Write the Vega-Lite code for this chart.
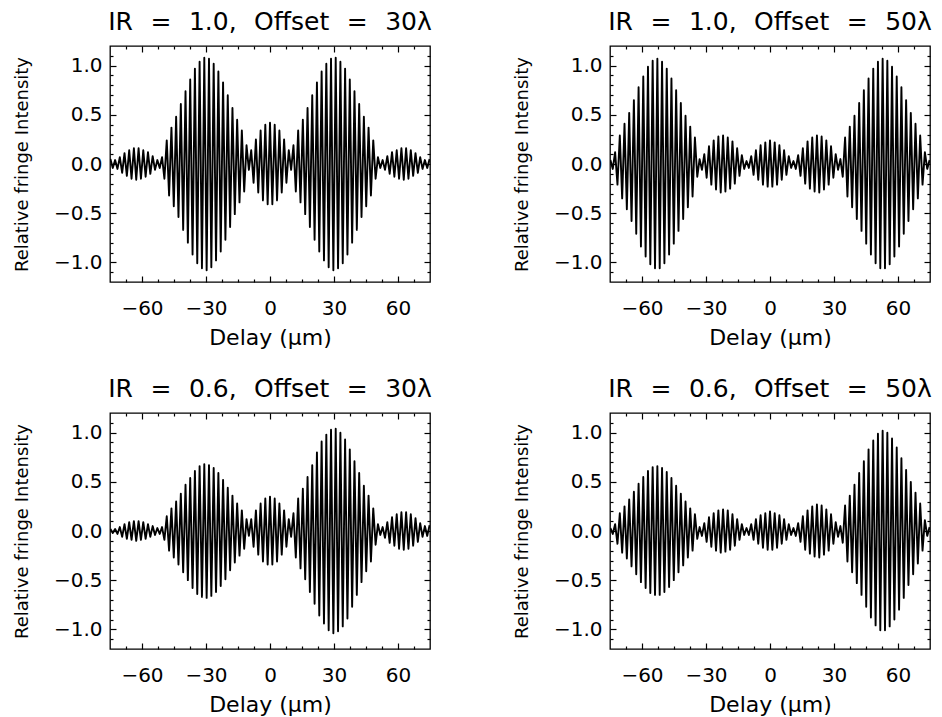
{
  "$schema": "https://vega.github.io/schema/vega-lite/v6.json",
  "background": "white",
  "padding": {"left": 12, "top": 9, "right": 2, "bottom": 2},
  "config": {
    "font": "DejaVu Sans",
    "view": {"stroke": "black", "strokeWidth": 1.3},
    "axis": {"grid": false, "domain": false, "labelFont": "DejaVu Sans", "titleFont": "DejaVu Sans", "labelColor": "black", "titleColor": "black", "titleFontWeight": "normal", "labelFontSize": 20, "titleFontSize": 20, "tickColor": "black", "tickWidth": 1.2},
    "axisX": {"labelPadding": 16, "titlePadding": 9, "titleFontSize": 22},
    "axisY": {"labelPadding": 8, "titlePadding": 22, "titleFontSize": 18},
    "title": {"font": "DejaVu Sans", "fontSize": 25, "fontWeight": "normal", "color": "black", "frame": "group", "anchor": "middle", "baseline": "alphabetic", "offset": 10}
  },
  "data": {"name": "fringes"},
  "datasets": {
    "fringes": [
      {"x":-74.8,"a":0.05,"b":0.04,"c":0.02,"d":0.03},
      {"x":-73.7,"a":-0.04,"b":-0.05,"c":-0.02,"d":-0.03},
      {"x":-72.6,"a":0.04,"b":0.12,"c":0.02,"d":0.07},
      {"x":-71.5,"a":-0.05,"b":-0.21,"c":-0.03,"d":-0.13},
      {"x":-70.4,"a":0.07,"b":0.29,"c":0.04,"d":0.18},
      {"x":-69.3,"a":-0.09,"b":-0.35,"c":-0.06,"d":-0.22},
      {"x":-68.2,"a":0.11,"b":0.41,"c":0.07,"d":0.25},
      {"x":-67.1,"a":-0.12,"b":-0.46,"c":-0.08,"d":-0.28},
      {"x":-66.0,"a":0.14,"b":0.52,"c":0.09,"d":0.32},
      {"x":-64.9,"a":-0.15,"b":-0.58,"c":-0.09,"d":-0.36},
      {"x":-63.8,"a":0.16,"b":0.65,"c":0.10,"d":0.40},
      {"x":-62.7,"a":-0.16,"b":-0.71,"c":-0.10,"d":-0.44},
      {"x":-61.6,"a":0.16,"b":0.78,"c":0.10,"d":0.48},
      {"x":-60.5,"a":-0.15,"b":-0.84,"c":-0.09,"d":-0.52},
      {"x":-59.4,"a":0.14,"b":0.89,"c":0.09,"d":0.55},
      {"x":-58.3,"a":-0.13,"b":-0.94,"c":-0.08,"d":-0.58},
      {"x":-57.2,"a":0.12,"b":0.99,"c":0.07,"d":0.61},
      {"x":-56.1,"a":-0.10,"b":-1.02,"c":-0.06,"d":-0.63},
      {"x":-55.0,"a":0.08,"b":1.05,"c":0.05,"d":0.65},
      {"x":-53.9,"a":-0.06,"b":-1.06,"c":-0.04,"d":-0.65},
      {"x":-52.8,"a":0.04,"b":1.07,"c":0.03,"d":0.66},
      {"x":-51.7,"a":-0.04,"b":-1.06,"c":-0.03,"d":-0.65},
      {"x":-50.6,"a":0.07,"b":1.04,"c":0.04,"d":0.64},
      {"x":-49.5,"a":-0.15,"b":-1.01,"c":-0.09,"d":-0.62},
      {"x":-48.4,"a":0.24,"b":0.97,"c":0.15,"d":0.60},
      {"x":-47.3,"a":-0.32,"b":-0.92,"c":-0.20,"d":-0.57},
      {"x":-46.2,"a":0.37,"b":0.87,"c":0.23,"d":0.54},
      {"x":-45.1,"a":-0.43,"b":-0.81,"c":-0.27,"d":-0.50},
      {"x":-44.0,"a":0.48,"b":0.75,"c":0.30,"d":0.46},
      {"x":-42.9,"a":-0.54,"b":-0.68,"c":-0.34,"d":-0.42},
      {"x":-41.8,"a":0.61,"b":0.62,"c":0.38,"d":0.38},
      {"x":-40.7,"a":-0.67,"b":-0.56,"c":-0.42,"d":-0.35},
      {"x":-39.6,"a":0.74,"b":0.49,"c":0.47,"d":0.30},
      {"x":-38.5,"a":-0.80,"b":-0.44,"c":-0.50,"d":-0.27},
      {"x":-37.4,"a":0.86,"b":0.38,"c":0.54,"d":0.23},
      {"x":-36.3,"a":-0.92,"b":-0.33,"c":-0.58,"d":-0.20},
      {"x":-35.2,"a":0.97,"b":0.27,"c":0.61,"d":0.17},
      {"x":-34.1,"a":-1.01,"b":-0.13,"c":-0.64,"d":-0.08},
      {"x":-33.0,"a":1.04,"b":0.05,"c":0.66,"d":0.04},
      {"x":-31.9,"a":-1.06,"b":-0.06,"c":-0.67,"d":-0.05},
      {"x":-30.8,"a":1.08,"b":0.10,"c":0.68,"d":0.08},
      {"x":-29.7,"a":-1.08,"b":-0.14,"c":-0.68,"d":-0.11},
      {"x":-28.6,"a":1.07,"b":0.18,"c":0.67,"d":0.14},
      {"x":-27.5,"a":-1.05,"b":-0.21,"c":-0.66,"d":-0.16},
      {"x":-26.4,"a":1.02,"b":0.24,"c":0.64,"d":0.18},
      {"x":-25.3,"a":-0.98,"b":-0.26,"c":-0.62,"d":-0.20},
      {"x":-24.2,"a":0.94,"b":0.28,"c":0.59,"d":0.21},
      {"x":-23.1,"a":-0.89,"b":-0.29,"c":-0.56,"d":-0.22},
      {"x":-22.0,"a":0.83,"b":0.29,"c":0.52,"d":0.22},
      {"x":-20.9,"a":-0.77,"b":-0.28,"c":-0.49,"d":-0.21},
      {"x":-19.8,"a":0.70,"b":0.27,"c":0.44,"d":0.21},
      {"x":-18.7,"a":-0.64,"b":-0.25,"c":-0.40,"d":-0.19},
      {"x":-17.6,"a":0.57,"b":0.23,"c":0.36,"d":0.17},
      {"x":-16.5,"a":-0.51,"b":-0.20,"c":-0.32,"d":-0.15},
      {"x":-15.4,"a":0.45,"b":0.16,"c":0.28,"d":0.12},
      {"x":-14.3,"a":-0.39,"b":-0.12,"c":-0.25,"d":-0.09},
      {"x":-13.2,"a":0.34,"b":0.09,"c":0.21,"d":0.07},
      {"x":-12.1,"a":-0.28,"b":-0.05,"c":-0.18,"d":-0.04},
      {"x":-11.0,"a":0.19,"b":0.03,"c":0.12,"d":0.03},
      {"x":-9.9,"a":-0.06,"b":-0.04,"c":-0.05,"d":-0.04},
      {"x":-8.8,"a":0.14,"b":0.08,"c":0.12,"d":0.07},
      {"x":-7.7,"a":-0.19,"b":-0.11,"c":-0.16,"d":-0.09},
      {"x":-6.6,"a":0.25,"b":0.14,"c":0.21,"d":0.12},
      {"x":-5.5,"a":-0.29,"b":-0.16,"c":-0.24,"d":-0.13},
      {"x":-4.4,"a":0.34,"b":0.19,"c":0.28,"d":0.16},
      {"x":-3.3,"a":-0.37,"b":-0.21,"c":-0.31,"d":-0.17},
      {"x":-2.2,"a":0.40,"b":0.22,"c":0.33,"d":0.18},
      {"x":-1.1,"a":-0.41,"b":-0.23,"c":-0.34,"d":-0.19},
      {"x":0,"a":0.42,"b":0.24,"c":0.35,"d":0.20},
      {"x":1.1,"a":-0.41,"b":-0.23,"c":-0.34,"d":-0.19},
      {"x":2.2,"a":0.40,"b":0.22,"c":0.33,"d":0.18},
      {"x":3.3,"a":-0.37,"b":-0.21,"c":-0.31,"d":-0.17},
      {"x":4.4,"a":0.34,"b":0.19,"c":0.28,"d":0.16},
      {"x":5.5,"a":-0.29,"b":-0.16,"c":-0.24,"d":-0.13},
      {"x":6.6,"a":0.25,"b":0.14,"c":0.21,"d":0.12},
      {"x":7.7,"a":-0.19,"b":-0.11,"c":-0.16,"d":-0.09},
      {"x":8.8,"a":0.14,"b":0.08,"c":0.12,"d":0.07},
      {"x":9.9,"a":-0.06,"b":-0.04,"c":-0.06,"d":-0.04},
      {"x":11.0,"a":0.19,"b":0.03,"c":0.18,"d":0.03},
      {"x":12.1,"a":-0.28,"b":-0.05,"c":-0.27,"d":-0.05},
      {"x":13.2,"a":0.34,"b":0.09,"c":0.33,"d":0.08},
      {"x":14.3,"a":-0.39,"b":-0.12,"c":-0.38,"d":-0.11},
      {"x":15.4,"a":0.45,"b":0.16,"c":0.43,"d":0.15},
      {"x":16.5,"a":-0.51,"b":-0.20,"c":-0.49,"d":-0.19},
      {"x":17.6,"a":0.57,"b":0.23,"c":0.55,"d":0.21},
      {"x":18.7,"a":-0.64,"b":-0.25,"c":-0.62,"d":-0.23},
      {"x":19.8,"a":0.70,"b":0.27,"c":0.67,"d":0.25},
      {"x":20.9,"a":-0.77,"b":-0.28,"c":-0.74,"d":-0.26},
      {"x":22.0,"a":0.83,"b":0.29,"c":0.80,"d":0.27},
      {"x":23.1,"a":-0.89,"b":-0.29,"c":-0.86,"d":-0.27},
      {"x":24.2,"a":0.94,"b":0.28,"c":0.91,"d":0.26},
      {"x":25.3,"a":-0.98,"b":-0.26,"c":-0.94,"d":-0.24},
      {"x":26.4,"a":1.02,"b":0.24,"c":0.98,"d":0.22},
      {"x":27.5,"a":-1.05,"b":-0.21,"c":-1.01,"d":-0.20},
      {"x":28.6,"a":1.07,"b":0.18,"c":1.03,"d":0.17},
      {"x":29.7,"a":-1.08,"b":-0.14,"c":-1.04,"d":-0.13},
      {"x":30.8,"a":1.08,"b":0.10,"c":1.04,"d":0.09},
      {"x":31.9,"a":-1.06,"b":-0.06,"c":-1.02,"d":-0.06},
      {"x":33.0,"a":1.04,"b":0.05,"c":1.00,"d":0.05},
      {"x":34.1,"a":-1.01,"b":-0.13,"c":-0.97,"d":-0.12},
      {"x":35.2,"a":0.97,"b":0.27,"c":0.93,"d":0.26},
      {"x":36.3,"a":-0.92,"b":-0.33,"c":-0.89,"d":-0.31},
      {"x":37.4,"a":0.86,"b":0.38,"c":0.83,"d":0.36},
      {"x":38.5,"a":-0.80,"b":-0.44,"c":-0.77,"d":-0.42},
      {"x":39.6,"a":0.74,"b":0.49,"c":0.71,"d":0.47},
      {"x":40.7,"a":-0.67,"b":-0.56,"c":-0.65,"d":-0.53},
      {"x":41.8,"a":0.61,"b":0.62,"c":0.59,"d":0.59},
      {"x":42.9,"a":-0.54,"b":-0.68,"c":-0.52,"d":-0.65},
      {"x":44.0,"a":0.48,"b":0.75,"c":0.46,"d":0.71},
      {"x":45.1,"a":-0.43,"b":-0.81,"c":-0.41,"d":-0.77},
      {"x":46.2,"a":0.37,"b":0.87,"c":0.36,"d":0.83},
      {"x":47.3,"a":-0.32,"b":-0.92,"c":-0.31,"d":-0.88},
      {"x":48.4,"a":0.24,"b":0.97,"c":0.23,"d":0.92},
      {"x":49.5,"a":-0.15,"b":-1.01,"c":-0.14,"d":-0.96},
      {"x":50.6,"a":0.07,"b":1.04,"c":0.07,"d":0.99},
      {"x":51.7,"a":-0.04,"b":-1.06,"c":-0.04,"d":-1.01},
      {"x":52.8,"a":0.04,"b":1.07,"c":0.04,"d":1.02},
      {"x":53.9,"a":-0.06,"b":-1.06,"c":-0.07,"d":-1.01},
      {"x":55.0,"a":0.08,"b":1.05,"c":0.09,"d":1.00},
      {"x":56.1,"a":-0.10,"b":-1.02,"c":-0.12,"d":-0.97},
      {"x":57.2,"a":0.12,"b":0.99,"c":0.14,"d":0.94},
      {"x":58.3,"a":-0.13,"b":-0.94,"c":-0.15,"d":-0.90},
      {"x":59.4,"a":0.14,"b":0.89,"c":0.17,"d":0.85},
      {"x":60.5,"a":-0.15,"b":-0.84,"c":-0.18,"d":-0.80},
      {"x":61.6,"a":0.16,"b":0.78,"c":0.19,"d":0.74},
      {"x":62.7,"a":-0.16,"b":-0.71,"c":-0.19,"d":-0.68},
      {"x":63.8,"a":0.16,"b":0.65,"c":0.19,"d":0.62},
      {"x":64.9,"a":-0.15,"b":-0.58,"c":-0.18,"d":-0.55},
      {"x":66.0,"a":0.14,"b":0.52,"c":0.17,"d":0.50},
      {"x":67.1,"a":-0.12,"b":-0.46,"c":-0.15,"d":-0.44},
      {"x":68.2,"a":0.11,"b":0.41,"c":0.13,"d":0.39},
      {"x":69.3,"a":-0.09,"b":-0.35,"c":-0.11,"d":-0.33},
      {"x":70.4,"a":0.07,"b":0.29,"c":0.08,"d":0.28},
      {"x":71.5,"a":-0.05,"b":-0.21,"c":-0.06,"d":-0.20},
      {"x":72.6,"a":0.04,"b":0.12,"c":0.05,"d":0.11},
      {"x":73.7,"a":-0.04,"b":-0.05,"c":-0.05,"d":-0.05},
      {"x":74.8,"a":0.05,"b":0.04,"c":0.06,"d":0.04}
    ]
  },
  "columns": 2,
  "spacing": {"row": 131, "column": 180},
  "bounds": "flush",
  "concat": [
    {
      "width": 320, "height": 236,
      "title": "IR\u2002\u2009=\u2002\u20091.0,\u2002\u2009Offset\u2002\u2009=\u2002\u200930λ",
      "layer": [
        {"mark": {"type": "line", "color": "black", "strokeWidth": 1.9, "strokeJoin": "round", "clip": true},
         "encoding": {
           "x": {"field": "x", "type": "quantitative", "scale": {"domain": [-75, 75], "nice": false, "zero": false}, "axis": {"orient": "bottom", "values": [-60, -30, 0, 30, 60], "ticks": false, "title": "Delay (μm)"}},
           "y": {"field": "a", "type": "quantitative", "scale": {"domain": [-1.2, 1.2], "nice": false, "zero": false}, "axis": {"orient": "left", "values": [-1, -0.5, 0, 0.5, 1], "format": ".1f", "ticks": false, "title": "Relative fringe Intensity"}}}},
        {"mark": {"type": "point", "opacity": 0},
         "encoding": {
           "x": {"field": "x", "type": "quantitative", "scale": {"domain": [-75, 75], "nice": false, "zero": false}, "axis": {"orient": "bottom", "values": [-60, -30, 0, 30, 60], "tickSize": -6, "labels": false, "title": null}},
           "y": {"field": "a", "type": "quantitative", "scale": {"domain": [-1.2, 1.2], "nice": false, "zero": false}, "axis": {"orient": "left", "values": [-1, -0.5, 0, 0.5, 1], "tickSize": -6, "labels": false, "title": null}}}},
        {"mark": {"type": "point", "opacity": 0},
         "encoding": {
           "x": {"field": "x", "type": "quantitative", "scale": {"domain": [-75, 75], "nice": false, "zero": false}, "axis": {"orient": "bottom", "values": [-67.5, -52.5, -45, -37.5, -22.5, -15, -7.5, 7.5, 15, 22.5, 37.5, 45, 52.5, 67.5], "tickSize": -3, "labels": false, "title": null}},
           "y": {"field": "a", "type": "quantitative", "scale": {"domain": [-1.2, 1.2], "nice": false, "zero": false}, "axis": {"orient": "left", "values": [-1.1, -0.9, -0.8, -0.7, -0.6, -0.4, -0.3, -0.2, -0.1, 0.1, 0.2, 0.3, 0.4, 0.6, 0.7, 0.8, 0.9, 1.1], "tickSize": -3, "labels": false, "title": null}}}},
        {"mark": {"type": "point", "opacity": 0},
         "encoding": {
           "x": {"field": "x", "type": "quantitative", "scale": {"domain": [-75, 75], "nice": false, "zero": false}, "axis": {"orient": "top", "values": [-60, -30, 0, 30, 60], "tickSize": -6, "labels": false, "title": null}},
           "y": {"field": "a", "type": "quantitative", "scale": {"domain": [-1.2, 1.2], "nice": false, "zero": false}, "axis": {"orient": "right", "values": [-1, -0.5, 0, 0.5, 1], "tickSize": -6, "labels": false, "title": null}}}},
        {"mark": {"type": "point", "opacity": 0},
         "encoding": {
           "x": {"field": "x", "type": "quantitative", "scale": {"domain": [-75, 75], "nice": false, "zero": false}, "axis": {"orient": "top", "values": [-67.5, -52.5, -45, -37.5, -22.5, -15, -7.5, 7.5, 15, 22.5, 37.5, 45, 52.5, 67.5], "tickSize": -3, "labels": false, "title": null}},
           "y": {"field": "a", "type": "quantitative", "scale": {"domain": [-1.2, 1.2], "nice": false, "zero": false}, "axis": {"orient": "right", "values": [-1.1, -0.9, -0.8, -0.7, -0.6, -0.4, -0.3, -0.2, -0.1, 0.1, 0.2, 0.3, 0.4, 0.6, 0.7, 0.8, 0.9, 1.1], "tickSize": -3, "labels": false, "title": null}}}}
      ],
      "resolve": {"axis": {"x": "independent", "y": "independent"}}
    },
    {
      "width": 320, "height": 236,
      "title": "IR\u2002\u2009=\u2002\u20091.0,\u2002\u2009Offset\u2002\u2009=\u2002\u200950λ",
      "layer": [
        {"mark": {"type": "line", "color": "black", "strokeWidth": 1.9, "strokeJoin": "round", "clip": true},
         "encoding": {
           "x": {"field": "x", "type": "quantitative", "scale": {"domain": [-75, 75], "nice": false, "zero": false}, "axis": {"orient": "bottom", "values": [-60, -30, 0, 30, 60], "ticks": false, "title": "Delay (μm)"}},
           "y": {"field": "b", "type": "quantitative", "scale": {"domain": [-1.2, 1.2], "nice": false, "zero": false}, "axis": {"orient": "left", "values": [-1, -0.5, 0, 0.5, 1], "format": ".1f", "ticks": false, "title": "Relative fringe Intensity"}}}},
        {"mark": {"type": "point", "opacity": 0},
         "encoding": {
           "x": {"field": "x", "type": "quantitative", "scale": {"domain": [-75, 75], "nice": false, "zero": false}, "axis": {"orient": "bottom", "values": [-60, -30, 0, 30, 60], "tickSize": -6, "labels": false, "title": null}},
           "y": {"field": "b", "type": "quantitative", "scale": {"domain": [-1.2, 1.2], "nice": false, "zero": false}, "axis": {"orient": "left", "values": [-1, -0.5, 0, 0.5, 1], "tickSize": -6, "labels": false, "title": null}}}},
        {"mark": {"type": "point", "opacity": 0},
         "encoding": {
           "x": {"field": "x", "type": "quantitative", "scale": {"domain": [-75, 75], "nice": false, "zero": false}, "axis": {"orient": "bottom", "values": [-67.5, -52.5, -45, -37.5, -22.5, -15, -7.5, 7.5, 15, 22.5, 37.5, 45, 52.5, 67.5], "tickSize": -3, "labels": false, "title": null}},
           "y": {"field": "b", "type": "quantitative", "scale": {"domain": [-1.2, 1.2], "nice": false, "zero": false}, "axis": {"orient": "left", "values": [-1.1, -0.9, -0.8, -0.7, -0.6, -0.4, -0.3, -0.2, -0.1, 0.1, 0.2, 0.3, 0.4, 0.6, 0.7, 0.8, 0.9, 1.1], "tickSize": -3, "labels": false, "title": null}}}},
        {"mark": {"type": "point", "opacity": 0},
         "encoding": {
           "x": {"field": "x", "type": "quantitative", "scale": {"domain": [-75, 75], "nice": false, "zero": false}, "axis": {"orient": "top", "values": [-60, -30, 0, 30, 60], "tickSize": -6, "labels": false, "title": null}},
           "y": {"field": "b", "type": "quantitative", "scale": {"domain": [-1.2, 1.2], "nice": false, "zero": false}, "axis": {"orient": "right", "values": [-1, -0.5, 0, 0.5, 1], "tickSize": -6, "labels": false, "title": null}}}},
        {"mark": {"type": "point", "opacity": 0},
         "encoding": {
           "x": {"field": "x", "type": "quantitative", "scale": {"domain": [-75, 75], "nice": false, "zero": false}, "axis": {"orient": "top", "values": [-67.5, -52.5, -45, -37.5, -22.5, -15, -7.5, 7.5, 15, 22.5, 37.5, 45, 52.5, 67.5], "tickSize": -3, "labels": false, "title": null}},
           "y": {"field": "b", "type": "quantitative", "scale": {"domain": [-1.2, 1.2], "nice": false, "zero": false}, "axis": {"orient": "right", "values": [-1.1, -0.9, -0.8, -0.7, -0.6, -0.4, -0.3, -0.2, -0.1, 0.1, 0.2, 0.3, 0.4, 0.6, 0.7, 0.8, 0.9, 1.1], "tickSize": -3, "labels": false, "title": null}}}}
      ],
      "resolve": {"axis": {"x": "independent", "y": "independent"}}
    },
    {
      "width": 320, "height": 236,
      "title": "IR\u2002\u2009=\u2002\u20090.6,\u2002\u2009Offset\u2002\u2009=\u2002\u200930λ",
      "layer": [
        {"mark": {"type": "line", "color": "black", "strokeWidth": 1.9, "strokeJoin": "round", "clip": true},
         "encoding": {
           "x": {"field": "x", "type": "quantitative", "scale": {"domain": [-75, 75], "nice": false, "zero": false}, "axis": {"orient": "bottom", "values": [-60, -30, 0, 30, 60], "ticks": false, "title": "Delay (μm)"}},
           "y": {"field": "c", "type": "quantitative", "scale": {"domain": [-1.2, 1.2], "nice": false, "zero": false}, "axis": {"orient": "left", "values": [-1, -0.5, 0, 0.5, 1], "format": ".1f", "ticks": false, "title": "Relative fringe Intensity"}}}},
        {"mark": {"type": "point", "opacity": 0},
         "encoding": {
           "x": {"field": "x", "type": "quantitative", "scale": {"domain": [-75, 75], "nice": false, "zero": false}, "axis": {"orient": "bottom", "values": [-60, -30, 0, 30, 60], "tickSize": -6, "labels": false, "title": null}},
           "y": {"field": "c", "type": "quantitative", "scale": {"domain": [-1.2, 1.2], "nice": false, "zero": false}, "axis": {"orient": "left", "values": [-1, -0.5, 0, 0.5, 1], "tickSize": -6, "labels": false, "title": null}}}},
        {"mark": {"type": "point", "opacity": 0},
         "encoding": {
           "x": {"field": "x", "type": "quantitative", "scale": {"domain": [-75, 75], "nice": false, "zero": false}, "axis": {"orient": "bottom", "values": [-67.5, -52.5, -45, -37.5, -22.5, -15, -7.5, 7.5, 15, 22.5, 37.5, 45, 52.5, 67.5], "tickSize": -3, "labels": false, "title": null}},
           "y": {"field": "c", "type": "quantitative", "scale": {"domain": [-1.2, 1.2], "nice": false, "zero": false}, "axis": {"orient": "left", "values": [-1.1, -0.9, -0.8, -0.7, -0.6, -0.4, -0.3, -0.2, -0.1, 0.1, 0.2, 0.3, 0.4, 0.6, 0.7, 0.8, 0.9, 1.1], "tickSize": -3, "labels": false, "title": null}}}},
        {"mark": {"type": "point", "opacity": 0},
         "encoding": {
           "x": {"field": "x", "type": "quantitative", "scale": {"domain": [-75, 75], "nice": false, "zero": false}, "axis": {"orient": "top", "values": [-60, -30, 0, 30, 60], "tickSize": -6, "labels": false, "title": null}},
           "y": {"field": "c", "type": "quantitative", "scale": {"domain": [-1.2, 1.2], "nice": false, "zero": false}, "axis": {"orient": "right", "values": [-1, -0.5, 0, 0.5, 1], "tickSize": -6, "labels": false, "title": null}}}},
        {"mark": {"type": "point", "opacity": 0},
         "encoding": {
           "x": {"field": "x", "type": "quantitative", "scale": {"domain": [-75, 75], "nice": false, "zero": false}, "axis": {"orient": "top", "values": [-67.5, -52.5, -45, -37.5, -22.5, -15, -7.5, 7.5, 15, 22.5, 37.5, 45, 52.5, 67.5], "tickSize": -3, "labels": false, "title": null}},
           "y": {"field": "c", "type": "quantitative", "scale": {"domain": [-1.2, 1.2], "nice": false, "zero": false}, "axis": {"orient": "right", "values": [-1.1, -0.9, -0.8, -0.7, -0.6, -0.4, -0.3, -0.2, -0.1, 0.1, 0.2, 0.3, 0.4, 0.6, 0.7, 0.8, 0.9, 1.1], "tickSize": -3, "labels": false, "title": null}}}}
      ],
      "resolve": {"axis": {"x": "independent", "y": "independent"}}
    },
    {
      "width": 320, "height": 236,
      "title": "IR\u2002\u2009=\u2002\u20090.6,\u2002\u2009Offset\u2002\u2009=\u2002\u200950λ",
      "layer": [
        {"mark": {"type": "line", "color": "black", "strokeWidth": 1.9, "strokeJoin": "round", "clip": true},
         "encoding": {
           "x": {"field": "x", "type": "quantitative", "scale": {"domain": [-75, 75], "nice": false, "zero": false}, "axis": {"orient": "bottom", "values": [-60, -30, 0, 30, 60], "ticks": false, "title": "Delay (μm)"}},
           "y": {"field": "d", "type": "quantitative", "scale": {"domain": [-1.2, 1.2], "nice": false, "zero": false}, "axis": {"orient": "left", "values": [-1, -0.5, 0, 0.5, 1], "format": ".1f", "ticks": false, "title": "Relative fringe Intensity"}}}},
        {"mark": {"type": "point", "opacity": 0},
         "encoding": {
           "x": {"field": "x", "type": "quantitative", "scale": {"domain": [-75, 75], "nice": false, "zero": false}, "axis": {"orient": "bottom", "values": [-60, -30, 0, 30, 60], "tickSize": -6, "labels": false, "title": null}},
           "y": {"field": "d", "type": "quantitative", "scale": {"domain": [-1.2, 1.2], "nice": false, "zero": false}, "axis": {"orient": "left", "values": [-1, -0.5, 0, 0.5, 1], "tickSize": -6, "labels": false, "title": null}}}},
        {"mark": {"type": "point", "opacity": 0},
         "encoding": {
           "x": {"field": "x", "type": "quantitative", "scale": {"domain": [-75, 75], "nice": false, "zero": false}, "axis": {"orient": "bottom", "values": [-67.5, -52.5, -45, -37.5, -22.5, -15, -7.5, 7.5, 15, 22.5, 37.5, 45, 52.5, 67.5], "tickSize": -3, "labels": false, "title": null}},
           "y": {"field": "d", "type": "quantitative", "scale": {"domain": [-1.2, 1.2], "nice": false, "zero": false}, "axis": {"orient": "left", "values": [-1.1, -0.9, -0.8, -0.7, -0.6, -0.4, -0.3, -0.2, -0.1, 0.1, 0.2, 0.3, 0.4, 0.6, 0.7, 0.8, 0.9, 1.1], "tickSize": -3, "labels": false, "title": null}}}},
        {"mark": {"type": "point", "opacity": 0},
         "encoding": {
           "x": {"field": "x", "type": "quantitative", "scale": {"domain": [-75, 75], "nice": false, "zero": false}, "axis": {"orient": "top", "values": [-60, -30, 0, 30, 60], "tickSize": -6, "labels": false, "title": null}},
           "y": {"field": "d", "type": "quantitative", "scale": {"domain": [-1.2, 1.2], "nice": false, "zero": false}, "axis": {"orient": "right", "values": [-1, -0.5, 0, 0.5, 1], "tickSize": -6, "labels": false, "title": null}}}},
        {"mark": {"type": "point", "opacity": 0},
         "encoding": {
           "x": {"field": "x", "type": "quantitative", "scale": {"domain": [-75, 75], "nice": false, "zero": false}, "axis": {"orient": "top", "values": [-67.5, -52.5, -45, -37.5, -22.5, -15, -7.5, 7.5, 15, 22.5, 37.5, 45, 52.5, 67.5], "tickSize": -3, "labels": false, "title": null}},
           "y": {"field": "d", "type": "quantitative", "scale": {"domain": [-1.2, 1.2], "nice": false, "zero": false}, "axis": {"orient": "right", "values": [-1.1, -0.9, -0.8, -0.7, -0.6, -0.4, -0.3, -0.2, -0.1, 0.1, 0.2, 0.3, 0.4, 0.6, 0.7, 0.8, 0.9, 1.1], "tickSize": -3, "labels": false, "title": null}}}}
      ],
      "resolve": {"axis": {"x": "independent", "y": "independent"}}
    }
  ]
}
